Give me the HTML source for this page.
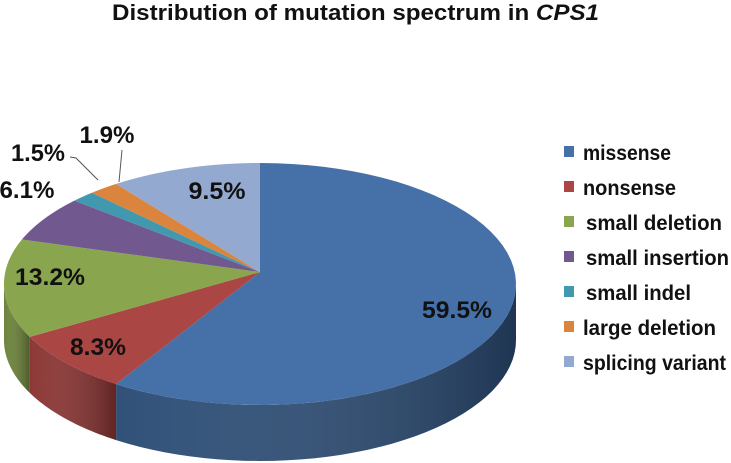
<!DOCTYPE html>
<html><head><meta charset="utf-8"><style>
html,body{margin:0;padding:0;background:#fff;}
svg{display:block;font-family:"Liberation Sans",sans-serif;}
</style></head><body>
<svg id="chart" width="731" height="463" viewBox="0 0 731 463">
<defs>
<linearGradient id="gside" x1="0" x2="1" y1="0" y2="0">
<stop offset="0" stop-color="#fff" stop-opacity="0.02"/>
<stop offset="1" stop-color="#000" stop-opacity="0.3"/>
</linearGradient>
</defs>
<text x="112" y="20" font-size="22" font-weight="bold" fill="#111" textLength="487" lengthAdjust="spacingAndGlyphs">Distribution of mutation spectrum in <tspan font-style="italic">CPS1</tspan></text>
<g id="sides"></g><g id="tops"></g><g id="labels"></g><g id="legend"></g>
</svg>
<script>
const categories = ["missense","nonsense","small deletion","small insertion","small indel","large deletion","splicing variant"];
const values = [59.5, 8.3, 13.2, 6.1, 1.5, 1.9, 9.5];
const valueLabels = ["59.5%","8.3%","13.2%","6.1%","1.5%","1.9%","9.5%"];
const colors = ["#4571a8","#aa4643","#89a54e","#71588f","#4198af","#db843d","#93a9cf"];
const sideColors = ["#2c4d76","#8a3432","#6b8239","#533f6b","#2d7183","#a6612b","#6c7d9c"];

const NS="http://www.w3.org/2000/svg";
const cx=260, cy=284, rx=256, ry=121, depth=56, vx=260, vy=272;
const total = values.reduce((a,b)=>a+b,0);
function pt(a){return [cx+rx*Math.sin(a), cy-ry*Math.cos(a)];}
function mk(tag,attrs,parent){const e=document.createElementNS(NS,tag);for(const k in attrs)e.setAttribute(k,attrs[k]);parent.appendChild(e);return e;}
const sides=document.getElementById('sides'), tops=document.getElementById('tops'), labels=document.getElementById('labels'), legend=document.getElementById('legend');
let acc=0;
const labelPos=[[457,318],[98,355],[50,285],[27,198],[38,161],[107,143],[217,199]];
const labelLens=[70,56,70,55,54,55,57];
values.forEach((v,i)=>{
  const a0=acc/total*2*Math.PI, a1=(acc+v)/total*2*Math.PI; acc+=v;
  const s0=Math.max(a0,Math.PI/2), s1=Math.min(a1,3*Math.PI/2);
  if(s1>s0){
    let top=[],bot=[];
    for(let k=0;k<=40;k++){const a=s0+(s1-s0)*k/40;const p=pt(a);top.push(p);bot.unshift([p[0],p[1]+depth]);}
    const poly=top.concat(bot).map(p=>p.join(',')).join(' ');
    const s=mk('polygon',{points:poly,fill:sideColors[i]},sides);
    
    
    const sh=mk('polygon',{points:poly,fill:'url(#gside)'},sides);
    
    
  }
  let pts=[[vx,vy]];
  for(let k=0;k<=60;k++){pts.push(pt(a0+(a1-a0)*k/60));}
  const t=mk('polygon',{points:pts.map(p=>p.join(',')).join(' '),fill:colors[i]},tops);
  
  
  const lp=labelPos[i];
  const tx=mk('text',{x:lp[0]-labelLens[i]/2,y:lp[1],'font-size':24,'font-weight':'bold',fill:'#111',textLength:labelLens[i],lengthAdjust:'spacingAndGlyphs'},labels);
  tx.textContent=valueLabels[i];
  
  
  const ly=152+i*35;
  const sq=mk('rect',{x:564,y:ly-6,width:10,height:11,fill:colors[i]},legend);
  
  
  const lens=[88,93,136,143,105,133,143];
  const lt=mk('text',{x:(i>=2&&i<=4)?586:583,y:ly+8,'font-size':21,'font-weight':'bold',fill:'#111',textLength:lens[i],lengthAdjust:'spacingAndGlyphs'},legend);
  lt.textContent=categories[i];
  
  
});
const l1=mk('polyline',{points:'70,157 76,158 98,180',fill:'none',stroke:'#555','stroke-width':1},labels);


const l2=mk('polyline',{points:'122,150 119,182',fill:'none',stroke:'#555','stroke-width':1},labels);


</script>
</body></html>
